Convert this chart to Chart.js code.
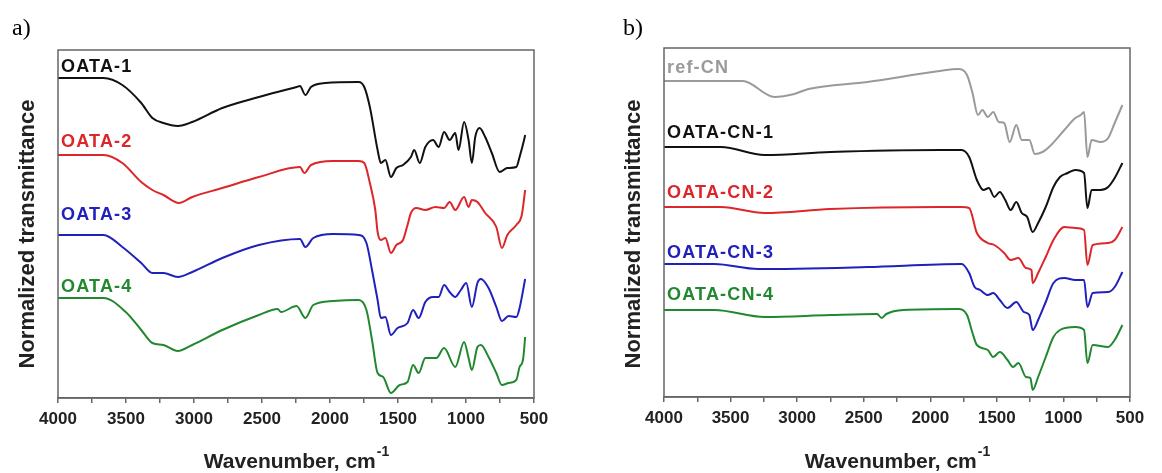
<!DOCTYPE html>
<html>
<head>
<meta charset="utf-8">
<script src="https://cdn.jsdelivr.net/npm/chart.js@4.4.1/dist/chart.umd.min.js"></script>
<style>
  html, body { margin: 0; padding: 0; background: #fff; }
  #wrap { position: relative; width: 1162px; height: 473px; }
  canvas { position: absolute; top: 0; }
  #chartA { left: 0; }
  #chartB { left: 581px; }
</style>
</head>
<body>
<div id="wrap">
  <canvas id="chartA" width="581" height="473"></canvas>
  <canvas id="chartB" width="581" height="473"></canvas>
</div>
<script>
// FTIR spectra, [wavenumber cm-1, offset normalized transmittance]
const oata1 = [[4000,320],[3665,320],[3527,313],[3388,295],[3306,280],[3225,275],[3119,272],[3013,276],[2792,290],[2523,301],[2246,311],[2221,312],[2181,303],[2140,311],[2034,315],[1789,316],[1748,311],[1707,291],[1650,248],[1626,235],[1593,238],[1552,221],[1512,230],[1463,233],[1405,241],[1381,248],[1340,235],[1299,251],[1242,258],[1201,251],[1161,266],[1120,258],[1079,265],[1055,248],[1014,276],[981,258],[957,235],[932,261],[900,270],[859,261],[810,245],[753,226],[696,230],[630,231],[606,241],[573,258],[565,263]];
const oata2 = [[4000,243],[3665,243],[3527,235],[3388,216],[3306,208],[3225,203],[3111,195],[3013,201],[2792,210],[2523,221],[2221,231],[2189,225],[2140,233],[1977,237],[1789,237],[1748,235],[1707,215],[1667,188],[1650,166],[1626,158],[1593,160],[1552,145],[1512,153],[1463,158],[1430,173],[1405,185],[1365,190],[1299,188],[1226,191],[1161,190],[1120,196],[1079,188],[1014,201],[981,191],[957,198],[916,196],[859,185],[777,171],[736,150],[696,163],[630,173],[590,183],[565,208]];
const oata3 = [[4000,163],[3665,163],[3527,151],[3388,135],[3306,125],[3225,125],[3119,121],[3013,126],[2792,140],[2523,153],[2221,159],[2181,151],[2123,160],[1977,164],[1789,163],[1732,155],[1691,128],[1650,98],[1626,80],[1593,81],[1552,63],[1503,70],[1430,75],[1389,88],[1348,80],[1299,96],[1242,101],[1201,101],[1161,113],[1120,106],[1079,101],[1038,108],[998,115],[957,91],[916,115],[891,119],[834,110],[777,91],[736,77],[687,82],[630,81],[606,90],[565,119]];
const oata4 = [[4000,100],[3665,100],[3502,86],[3388,68],[3306,55],[3225,53],[3119,47],[3013,53],[2792,68],[2523,83],[2385,89],[2360,86],[2246,92],[2181,80],[2123,93],[1977,97],[1789,98],[1732,88],[1691,58],[1650,25],[1609,21],[1552,5],[1487,13],[1430,16],[1389,33],[1348,25],[1299,40],[1218,40],[1161,50],[1079,31],[1014,56],[981,40],[957,28],[916,51],[891,53],[834,41],[777,25],[736,13],[687,15],[630,18],[606,31],[581,38],[565,61]];

const refCN = [[4000,316],[3408,316],[3170,300],[3022,303],[2915,308],[2472,315],[1930,326],[1790,328],[1724,322],[1683,304],[1642,282],[1609,287],[1568,280],[1527,285],[1486,275],[1445,274],[1404,255],[1354,272],[1313,257],[1256,257],[1215,243],[1157,245],[1108,250],[993,267],[911,279],[870,282],[845,285],[820,240],[788,257],[722,255],[664,259],[615,274],[557,292]];
const oataCN1 = [[4000,250],[3573,250],[3244,242],[2751,245],[1930,247],[1765,247],[1708,240],[1650,217],[1601,207],[1560,209],[1519,200],[1478,205],[1437,197],[1396,187],[1354,195],[1313,184],[1272,180],[1231,165],[1190,174],[1133,190],[1075,210],[1026,220],[968,224],[911,227],[845,224],[820,189],[788,207],[722,207],[664,210],[615,219],[557,234]];
const oataCN2 = [[4000,190],[3573,190],[3244,184],[2751,188],[1930,190],[1765,190],[1708,189],[1650,164],[1568,154],[1519,152],[1445,144],[1396,137],[1338,139],[1281,129],[1240,127],[1231,114],[1190,124],[1133,140],[1075,157],[993,170],[911,169],[845,167],[820,132],[780,152],[664,154],[615,157],[557,170]];
const oataCN3 = [[4000,133],[3622,133],[3293,128],[2472,130],[1765,133],[1708,124],[1667,110],[1626,107],[1568,102],[1527,104],[1478,97],[1420,89],[1354,95],[1297,85],[1256,82],[1231,67],[1190,77],[1133,95],[1075,114],[993,119],[911,117],[845,117],[820,90],[780,104],[664,105],[615,110],[557,125]];
const oataCN4 = [[4000,87],[3622,87],[3244,80],[2751,82],[2400,83],[2365,79],[2330,83],[2201,87],[1790,88],[1724,82],[1683,64],[1650,52],[1568,47],[1527,40],[1478,45],[1420,37],[1379,30],[1338,34],[1281,20],[1248,19],[1231,7],[1190,20],[1133,40],[1075,60],[1026,67],[911,70],[845,67],[820,34],[780,52],[664,50],[615,57],[557,72]];

const namesA = ['OATA-1', 'OATA-2', 'OATA-3', 'OATA-4'];
const namesB = ['ref-CN', 'OATA-CN-1', 'OATA-CN-2', 'OATA-CN-3', 'OATA-CN-4'];
const xTicks = [4000, 3500, 3000, 2500, 2000, 1500, 1000, 500];

const BLACK = '#111111', RED = '#dc2629', BLUE = '#2020bb', GREEN = '#21882f', GRAY = '#9a9a9a';
const FONT = '"Liberation Sans", Arial, sans-serif';

// text, frame and titles drawn on top of each panel
const panelText = {
  id: 'panelText',
  afterDraw(chart, args, opts) {
    const ctx = chart.ctx;
    const a = chart.chartArea;
    ctx.save();
    // frame
    ctx.strokeStyle = '#666';
    ctx.lineWidth = 1.5;
    ctx.strokeRect(a.left, a.top, a.right - a.left, a.bottom - a.top);

    // series names
    ctx.font = 'bold 18px ' + FONT;
    ctx.letterSpacing = '1.2px';
    ctx.textBaseline = 'middle';
    ctx.textAlign = 'left';
    opts.labels.forEach(l => {
      ctx.fillStyle = l.color;
      ctx.fillText(l.text, a.left + 3, l.y);
    });
    ctx.letterSpacing = '0px';

    // panel letter
    ctx.fillStyle = '#000';
    ctx.font = '24px "Liberation Serif", "Times New Roman", serif';
    ctx.fillText(opts.letter, opts.letterX, 29);

    // y title
    ctx.save();
    ctx.translate(opts.yTitleX, 234);
    ctx.rotate(-Math.PI / 2);
    ctx.textAlign = 'center';
    ctx.font = 'bold 22px ' + FONT;
    ctx.fillStyle = '#222';
    ctx.fillText('Normalized transmittance', 0, 0);
    ctx.restore();

    // x title with superscript
    const main = 'Wavenumber, cm';
    const sup = '-1';
    ctx.font = 'bold 21px ' + FONT;
    const w1 = ctx.measureText(main).width;
    ctx.font = 'bold 14px ' + FONT;
    const w2 = ctx.measureText(sup).width;
    const cx = (a.left + a.right) / 2;
    const x0 = cx - (w1 + w2) / 2;
    ctx.fillStyle = '#222';
    ctx.textAlign = 'left';
    ctx.font = 'bold 21px ' + FONT;
    ctx.fillText(main, x0, 462);
    ctx.font = 'bold 14px ' + FONT;
    ctx.fillText(sup, x0 + w1 + 1, 452);
    ctx.restore();
  }
};

function makePanel(id, series, yMax, pad, plugOpts) {
  new Chart(document.getElementById(id), {
    type: 'line',
    data: {
      datasets: series.map(s => ({
        data: s.data.map(p => ({ x: p[0], y: p[1] })),
        borderColor: s.color,
        borderWidth: 2,
        pointRadius: 0,
        cubicInterpolationMode: 'monotone',
        fill: false
      }))
    },
    options: {
      responsive: false,
      animation: false,
      devicePixelRatio: 1,
      layout: { padding: pad },
      plugins: {
        legend: { display: false },
        tooltip: { enabled: false },
        panelText: plugOpts
      },
      scales: {
        x: {
          type: 'linear',
          reverse: true,
          min: 500,
          max: 4000,
          afterFit: s => { s.height = 75; },
          afterBuildTicks: s => {
            const t = [];
            for (let v = 500; v <= 4000; v += 250) t.push({ value: v });
            s.ticks = t;
          },
          ticks: {
            autoSkip: false,
            maxRotation: 0,
            padding: 6,
            color: '#222',
            font: { family: FONT, size: 17, weight: 'bold' },
            callback: v => (xTicks.includes(v) ? String(v) : '')
          },
          grid: {
            drawOnChartArea: false,
            drawTicks: true,
            tickLength: 5,
            color: '#666',
            lineWidth: 1.5
          },
          border: { display: true, color: '#666', width: 1.5 }
        },
        y: {
          display: false,
          min: 0,
          max: yMax
        }
      }
    },
    plugins: [panelText]
  });
}

makePanel('chartA', [
  { data: oata1, color: BLACK },
  { data: oata2, color: RED },
  { data: oata3, color: BLUE },
  { data: oata4, color: GREEN }
], 348, { left: 58, right: 47, top: 50, bottom: 0 }, {
  letter: 'a)', letterX: 12, yTitleX: 28,
  labels: [
    { text: namesA[0], color: BLACK, y: 67 },
    { text: namesA[1], color: RED, y: 142 },
    { text: namesA[2], color: BLUE, y: 215 },
    { text: namesA[3], color: GREEN, y: 287 }
  ]
});

makePanel('chartB', [
  { data: refCN, color: GRAY },
  { data: oataCN1, color: BLACK },
  { data: oataCN2, color: RED },
  { data: oataCN3, color: BLUE },
  { data: oataCN4, color: GREEN }
], 349, { left: 83, right: 32, top: 48, bottom: 1 }, {
  letter: 'b)', letterX: 42, yTitleX: 53,
  labels: [
    { text: namesB[0], color: GRAY, y: 68 },
    { text: namesB[1], color: BLACK, y: 133 },
    { text: namesB[2], color: RED, y: 193 },
    { text: namesB[3], color: BLUE, y: 253 },
    { text: namesB[4], color: GREEN, y: 295 }
  ]
});
</script>
</body>
</html>
